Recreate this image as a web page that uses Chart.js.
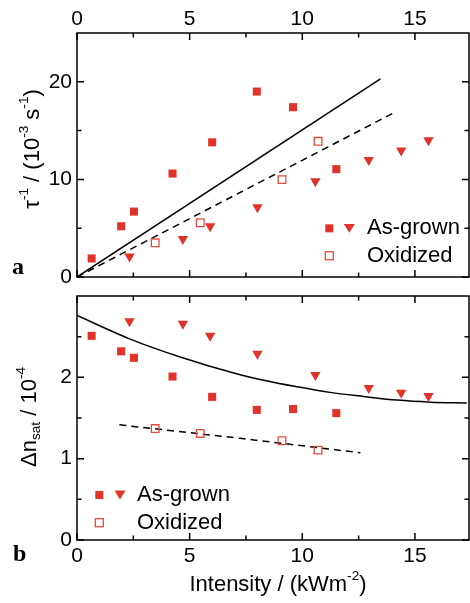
<!DOCTYPE html>
<html>
<head>
<meta charset="utf-8">
<script src="https://cdn.jsdelivr.net/npm/chart.js@4.4.0/dist/chart.umd.min.js"></script>
<style>
  body { margin: 0; background: #fff; }
  #wrap { position: relative; width: 470px; height: 603px; }
  canvas { position: absolute; left: 0; }
</style>
</head>
<body>
<div id="wrap">
  <canvas id="chartA" width="470" height="286" style="top:0px"></canvas>
  <canvas id="chartB" width="470" height="317" style="top:286px"></canvas>
</div>
<script>
'use strict'

// data
const xTicks = [0, 5, 10, 15];
const xMinor = [2.5, 7.5, 12.5];
const tauTicks = [0, 10, 20];
const tauMinor = [5, 15];
const dnTicks = [0, 1, 2];
const dnMinor = [0.5, 1.5, 2.5];

// as-grown, squares
const sqX = [0.65, 1.96, 2.53, 4.24, 6.0, 7.98, 9.59, 11.51];
const tauSq = [1.9, 5.2, 6.7, 10.6, 13.8, 19.0, 17.4, 11.05];
const dnSq = [2.51, 2.32, 2.24, 2.01, 1.76, 1.60, 1.61, 1.56];

// as-grown, triangles
const triX = [2.33, 4.70, 5.91, 8.01, 10.58, 12.95, 14.39, 15.6];
const tauTri = [2.1, 3.9, 5.2, 7.15, 9.8, 12.0, 12.95, 14.0];
const dnTri = [2.69, 2.66, 2.51, 2.29, 2.03, 1.87, 1.81, 1.77];

// oxidized, open squares
const oxX = [3.47, 5.47, 9.1, 10.7];
const tauOx = [3.5, 5.56, 9.98, 13.9];
const dnOx = [1.37, 1.31, 1.22, 1.105];

// fitted lines
const tauFitX = [0, 13.47];
const tauFitY = [0, 20.3];
const tauOxFitX = [0, 14.13];
const tauOxFitY = [0, 16.9];
const dnFitX = [0, 2.36, 4.58, 7.0, 8.28, 9.76, 11.24, 12.73, 14.2, 15.69, 17.3];
const dnFitY = [2.76, 2.47, 2.25, 2.05, 1.965, 1.885, 1.815, 1.765, 1.72, 1.695, 1.685];
const dnOxFitX = [1.88, 7.24, 12.58];
const dnOxFitY = [1.416, 1.25, 1.073];

const RED = '#e1322b';
const FONT = "'Liberation Sans', Arial, sans-serif";

function pts(xs, ys) {
  return xs.map((x, i) => ({ x: x, y: ys[i] }));
}

function sets(tSq, tTri, tOx, fit1X, fit1Y, fit2X, fit2Y) {
  return [
    { data: pts(sqX, tSq), pointStyle: 'rect', pointRadius: 5.7, backgroundColor: RED, borderWidth: 0 },
    { data: pts(triX, tTri), pointStyle: 'triangle', rotation: 180, pointRadius: 6, backgroundColor: RED, borderWidth: 0 },
    { data: pts(oxX, tOx), pointStyle: 'rect', pointRadius: 5.4, backgroundColor: 'rgba(0,0,0,0)', borderColor: '#e8493f', borderWidth: 1.3 },
    { data: pts(fit1X, fit1Y), showLine: true, pointRadius: 0, borderColor: '#000', borderWidth: 1.5, cubicInterpolationMode: 'monotone' },
    { data: pts(fit2X, fit2Y), showLine: true, pointRadius: 0, borderColor: '#000', borderWidth: 1.5, borderDash: [7, 5] }
  ];
}

// text with super/subscripts; parts = [text, shift] with shift 0, 1 (sup), -1 (sub)
function richText(ctx, parts, cx, cy, size) {
  let widths = parts.map(p => {
    ctx.font = (p[1] ? size * 0.62 : size) + 'px ' + FONT;
    return ctx.measureText(p[0]).width;
  });
  let total = widths.reduce((a, b) => a + b, 0);
  let x = cx - total / 2;
  ctx.textAlign = 'left';
  ctx.textBaseline = 'middle';
  ctx.fillStyle = '#000';
  parts.forEach((p, i) => {
    ctx.font = (p[1] ? size * 0.62 : size) + 'px ' + FONT;
    let dy = p[1] === 1 ? -size * 0.4 : (p[1] === -1 ? size * 0.28 : 0);
    ctx.fillText(p[0], x, cy + dy);
    x += widths[i];
  });
}

function square(ctx, x, y, s, filled) {
  if (filled) {
    ctx.fillStyle = RED;
    ctx.fillRect(x - s / 2, y - s / 2, s, s);
  } else {
    ctx.strokeStyle = '#e8493f';
    ctx.lineWidth = 1.3;
    ctx.strokeRect(x - s / 2, y - s / 2, s, s);
  }
}

function triangle(ctx, x, y, w) {
  let h = w * 0.8;
  ctx.fillStyle = RED;
  ctx.beginPath();
  ctx.moveTo(x - w / 2, y - h / 2);
  ctx.lineTo(x + w / 2, y - h / 2);
  ctx.lineTo(x, y + h / 2);
  ctx.closePath();
  ctx.fill();
}

// frame with inward ticks, legend and titles
const decor = {
  id: 'decor',
  afterDraw(chart, args, o) {
    const ctx = chart.ctx;
    const a = chart.chartArea;
    const xs = chart.scales.x, ys = chart.scales.y;
    ctx.save();
    ctx.strokeStyle = '#000';
    ctx.lineWidth = 1.5;
    ctx.strokeRect(a.left, a.top, a.right - a.left, a.bottom - a.top);
    ctx.beginPath();
    o.xMajor.concat(o.xMinor).forEach(v => {
      let len = o.xMajor.includes(v) ? 7 : 4.5;
      let px = xs.getPixelForValue(v);
      ctx.moveTo(px, a.top); ctx.lineTo(px, a.top + len);
      ctx.moveTo(px, a.bottom); ctx.lineTo(px, a.bottom - len);
    });
    o.yMajor.concat(o.yMinor).forEach(v => {
      let len = o.yMajor.includes(v) ? 7 : 4.5;
      let py = ys.getPixelForValue(v);
      ctx.moveTo(a.left, py); ctx.lineTo(a.left + len, py);
      ctx.moveTo(a.right, py); ctx.lineTo(a.right - len, py);
    });
    ctx.stroke();

    // legend
    let L = o.legend;
    square(ctx, L.x, L.y1, 8, true);
    triangle(ctx, L.x + L.gap, L.y1, 11);
    square(ctx, L.x, L.y2, 8, false);
    ctx.fillStyle = '#000';
    ctx.font = '22px ' + FONT;
    ctx.textAlign = 'left';
    ctx.textBaseline = 'middle';
    ctx.fillText('As-grown', L.tx, L.y1);
    ctx.fillText('Oxidized', L.tx, L.y2);

    // y title
    ctx.save();
    ctx.translate(o.yTitle.x, o.yTitle.y);
    ctx.rotate(-Math.PI / 2);
    richText(ctx, o.yTitle.parts, 0, 0, 22);
    ctx.restore();

    if (o.xTitle) {
      richText(ctx, o.xTitle.parts, o.xTitle.x, o.xTitle.y, 22);
    }

    // panel letter
    ctx.fillStyle = '#000';
    ctx.font = "bold 24px 'Liberation Serif', 'Times New Roman', serif";
    ctx.textAlign = 'left';
    ctx.textBaseline = 'alphabetic';
    ctx.fillText(o.letter.t, o.letter.x, o.letter.y);
    ctx.restore();
  }
};

function tickFont() {
  return { family: FONT, size: 21 };
}

function fixTicks(list) {
  return s => { s.ticks = list.map(v => ({ value: v })); };
}

function fitX(h) {
  return s => { s.height = h; s.paddingLeft = 0; s.paddingRight = 0; };
}

function fitY(w) {
  return s => { s.width = w; s.paddingTop = 0; s.paddingBottom = 0; };
}

// panel a
new Chart(document.getElementById('chartA'), {
  type: 'scatter',
  data: { datasets: sets(tauSq, tauTri, tauOx, tauFitX, tauFitY, tauOxFitX, tauOxFitY) },
  options: {
    responsive: false,
    animation: false,
    devicePixelRatio: 1,
    events: [],
    layout: { autoPadding: false, padding: { top: 0, left: 0, right: 1, bottom: 9 } },
    plugins: {
      legend: { display: false },
      tooltip: { enabled: false },
      decor: {
        xMajor: xTicks, xMinor: xMinor, yMajor: tauTicks, yMinor: tauMinor,
        legend: { x: 329.3, gap: 20, tx: 367, y1: 228.3, y2: 255.7 },
        yTitle: { x: 33, y: 149, parts: [['τ', 0], ['-1', 1], [' / (10', 0], ['-3', 1], [' s', 0], ['-1', 1], [')', 0]] },
        letter: { t: 'a', x: 12, y: 274 }
      }
    },
    scales: {
      x: {
        type: 'linear', position: 'top', min: 0, max: 17.4,
        grid: { display: false, drawTicks: false }, border: { display: false },
        ticks: { autoSkip: false, maxRotation: 0, padding: 1, color: '#000', font: tickFont() },
        afterBuildTicks: fixTicks(xTicks),
        afterFit: fitX(33)
      },
      y: {
        type: 'linear', position: 'left', min: 0, max: 25,
        grid: { display: false, drawTicks: false }, border: { display: false },
        ticks: { autoSkip: false, padding: 5, color: '#000', font: tickFont() },
        afterBuildTicks: fixTicks(tauTicks),
        afterFit: fitY(77)
      }
    }
  },
  plugins: [decor]
});

// panel b
new Chart(document.getElementById('chartB'), {
  type: 'scatter',
  data: { datasets: sets(dnSq, dnTri, dnOx, dnFitX, dnFitY, dnOxFitX, dnOxFitY) },
  options: {
    responsive: false,
    animation: false,
    devicePixelRatio: 1,
    events: [],
    layout: { autoPadding: false, padding: { top: 10, left: 0, right: 1, bottom: 0 } },
    plugins: {
      legend: { display: false },
      tooltip: { enabled: false },
      decor: {
        xMajor: xTicks, xMinor: xMinor, yMajor: dnTicks, yMinor: dnMinor,
        legend: { x: 99.3, gap: 20.7, tx: 137, y1: 209, y2: 236.7 },
        yTitle: { x: 30, y: 131, parts: [['Δn', 0], ['sat', -1], [' / 10', 0], ['-4', 1]] },
        xTitle: { x: 278, y: 299, parts: [['Intensity / (kWm', 0], ['-2', 1], [')', 0]] },
        letter: { t: 'b', x: 13, y: 275 }
      }
    },
    scales: {
      x: {
        type: 'linear', position: 'bottom', min: 0, max: 17.4,
        grid: { display: false, drawTicks: false }, border: { display: false },
        ticks: { autoSkip: false, maxRotation: 0, padding: 4, color: '#000', font: tickFont() },
        afterBuildTicks: fixTicks(xTicks),
        afterFit: fitX(63)
      },
      y: {
        type: 'linear', position: 'left', min: 0, max: 3,
        grid: { display: false, drawTicks: false }, border: { display: false },
        ticks: { autoSkip: false, padding: 5, color: '#000', font: tickFont() },
        afterBuildTicks: fixTicks(dnTicks),
        afterFit: fitY(77)
      }
    }
  },
  plugins: [decor]
});
</script>
</body>
</html>
